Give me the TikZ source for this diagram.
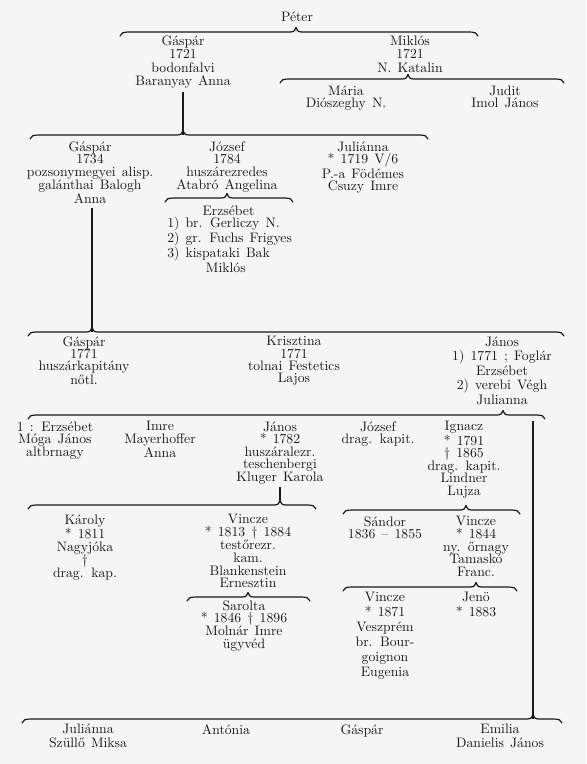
\documentclass[tikz,border=0pt]{standalone}
\usepackage{fontspec}
\definecolor{paper}{RGB}{245,245,245}
\definecolor{ink}{RGB}{25,25,25}
\newcommand\gbrace[4]{%
  \draw[brc] (#1,#4+4) .. controls (#1+1,#4+1) and (#1+3,#4) .. (#1+9,#4)
    -- (#3-6,#4) .. controls (#3-2,#4) and (#3-0.5,#4-1.5) .. (#3,#4-4.5)
    .. controls (#3+0.5,#4-1.5) and (#3+2,#4) .. (#3+6,#4)
    -- (#2-9,#4) .. controls (#2-3,#4) and (#2-1,#4+1) .. (#2,#4+4);}
\newcommand\widesp{\spaceskip=4.6pt plus 1pt\relax}
\begin{document}
\begin{tikzpicture}[x=0.75pt,y=-0.75pt,
  pitch/.style={font=\fontsize{10.3}{#1}\selectfont},
  txt/.style={align=center,inner sep=0pt,anchor=north,yshift=8pt,text=ink,
    pitch=9.45pt,execute at begin node={\widesp\rule{0pt}{8pt}}},
  txl/.style={txt,align=left,anchor=north west},
  vln/.style={draw=ink,line width=1pt},
  brc/.style={draw=ink,line width=0.9pt,line cap=round,line join=round}]
\fill[paper] (0,0) rectangle (586,764);
\useasboundingbox (0,0) rectangle (586,764);

% generation 0/1
\node[txt] (peter) at (297,21) {Péter};
\gbrace{120}{478}{296}{32}
\node[txt,pitch=10.125pt] (gasp1) at (183,46) {Gáspár\\1721\\bodonfalvi\\Baranyay Anna};
\node[txt,pitch=10.125pt] (mik) at (410,46) {Miklós\\1721\\N. Katalin};
\gbrace{280}{564}{408}{79}
\node[txt] (maria) at (346,96) {Mária\\Diószeghy N.};
\node[txt] (judit) at (505,96) {Judit\\Imol János};
\coordinate (v1a) at (183,92);
\coordinate (v1b) at (183,135);
\draw[vln] (v1a) -- (v1b);

% generation 2
\gbrace{30}{428}{183}{135}
\node[txt] (gasp2) at (90,152) {Gáspár\\1734\\pozsonymegyei alisp.\\galánthai Balogh\\Anna};
\node[txt] (jozs1) at (227,152) {József\\1784\\huszárezredes\\Atabró Angelina};
\node[txt] (jul1) at (363,152) {Juliánna\\* 1719 V/6\\P.-a Födémes\\Csuzy Imre};
\gbrace{165}{293}{227}{198}
\node[txl,pitch=9.3pt] (erzs1) at (167,216) {\hspace*{26.5pt}Erzsébet\\1) br. Gerliczy N.\\2) gr. Fuchs Frigyes\\3) kispataki Bak\\\hspace*{29pt}Miklós};
\coordinate (v2a) at (92,208);
\coordinate (v2b) at (92,332);
\draw[vln] (v2a) -- (v2b);

% generation 3
\gbrace{28}{564}{92}{332}
\node[txt,pitch=9.225pt] (gasp3) at (84,347) {Gáspár\\1771\\huszárkapitány\\nőtl.};
\node[txt,pitch=9.225pt] (kriszt) at (294,347) {Krisztina\\1771\\tolnai Festetics\\Lajos};
\node[txt,pitch=10.875pt] (janos1) at (502,347) {János\\1) 1771 ; Foglár\\Erzsébet\\2) verebi Végh\\Julianna};
\gbrace{28}{545}{503}{415}
\coordinate (v3a) at (533,421);
\coordinate (v3b) at (533,719);
\draw[vln] (v3a) -- (v3b);

% generation 4
\node[txt,pitch=9.375pt] (erzs2) at (55,432) {1 : Erzsébet\\Móga János\\altbrnagy};
\node[txt,pitch=9.375pt] (imre1) at (160,432) {Imre\\Mayerhoffer\\Anna};
\node[txt,pitch=9.375pt] (janos2) at (280,432) {János\\* 1782\\huszáralezr.\\teschenbergi\\Kluger Karola};
\node[txt,pitch=9.375pt] (jozs2) at (378,432) {József\\drag. kapit.};
\node[txt,pitch=9.375pt] (ignacz) at (464,432) {Ignacz\\* 1791\\† 1865\\drag. kapit.\\Lindner\\Lujza};
\coordinate (v4a) at (280,487);
\coordinate (v4b) at (280,502);
\draw[vln] (v4a) -- (v4b);
\gbrace{28}{316}{280}{505}
\gbrace{343}{520}{466}{510}

% generation 5
\node[txt,pitch=9.6pt] (karoly) at (85,525) {Károly\\* 1811\\Nagyjóka\\†\\drag. kap.};
\node[txt,pitch=9.6pt] (vincze1) at (248,525) {Vincze\\* 1813 † 1884\\testőrezr.\\kam.\\Blankenstein\\Ernesztin};
\gbrace{187}{310}{248}{597}
\node[txt] (sarolta) at (244,611) {Sarolta\\* 1846 † 1896\\Molnár Imre\\ügyvéd};
\node[txt] (sandor) at (385,527) {Sándor\\1836 – 1855};
\node[txt] (vincze2) at (476,527) {Vincze\\* 1844\\ny. őrnagy\\Tamaskó\\Franc.};
\gbrace{343}{517}{476}{587}
\node[txt,pitch=11.25pt] (vincze3) at (385,603) {Vincze\\* 1871\\Veszprém\\br. Bour-\\goignon\\Eugenia};
\node[txt,pitch=11.25pt] (jeno) at (476,603) {Jenö\\* 1883};

% second marriage
\gbrace{22}{562}{533}{719}
\node[txt,pitch=10.5pt] (jul2) at (88,734) {Juliánna\\Szüllő Miksa};
\node[txt] (anto) at (226,734) {Antónia};
\node[txt] (gasp4) at (362,734) {Gáspár};
\node[txt,pitch=10.5pt] (emil) at (500,734) {Emilia\\Danielis János};
\end{tikzpicture}
\end{document}
